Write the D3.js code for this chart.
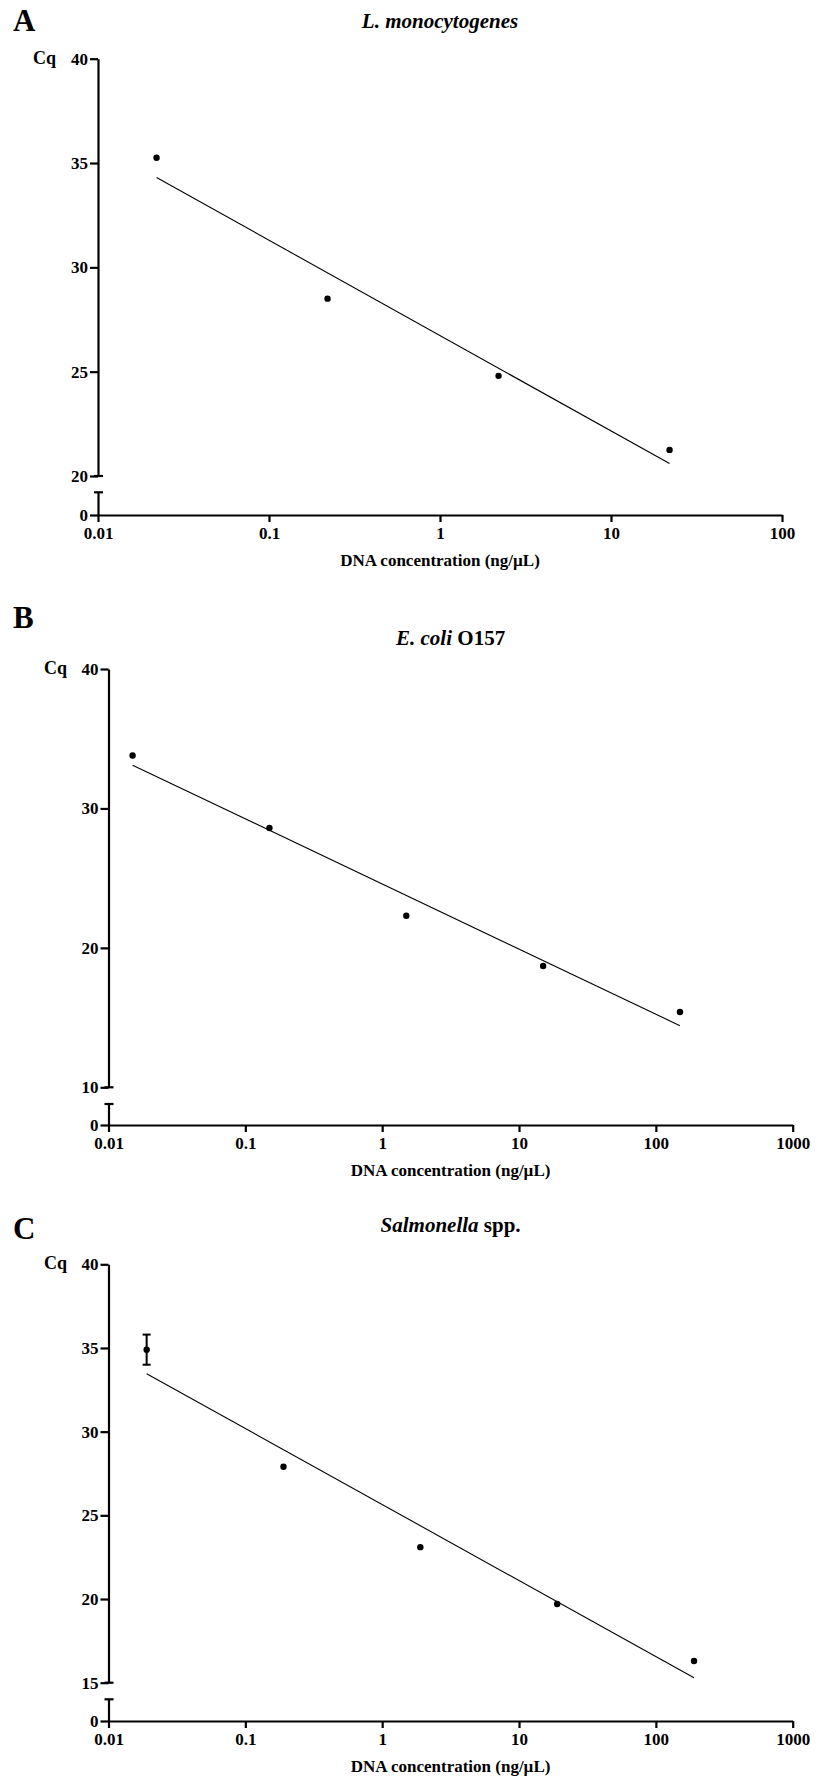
<!DOCTYPE html>
<html>
<head>
<meta charset="utf-8">
<script src="https://cdn.jsdelivr.net/npm/d3@7"></script>
<style>
  html, body { margin: 0; padding: 0; background: #fff; }
  svg { display: block; }
  text { font-family: "Liberation Serif", "Times New Roman", serif; font-weight: bold; fill: #000; }
</style>
</head>
<body>
<svg id="chart" width="826" height="1777"></svg>
<script>
// ---------- data ----------
const panelLetters = ["A", "B", "C"];
const titleItalic = ["L. monocytogenes", "E. coli", "Salmonella"];
const titleRoman = ["", " O157", " spp."];

const concA = [0.022, 0.22, 2.2, 22];
const cqA = [35.25, 28.5, 24.8, 21.25];
const errA = [0, 0, 0, 0];

const concB = [0.015, 0.15, 1.5, 15, 150];
const cqB = [33.8, 28.6, 22.3, 18.7, 15.4];
const errB = [0, 0, 0, 0, 0];

const concC = [0.019, 0.19, 1.9, 19, 190];
const cqC = [34.9, 27.9, 23.1, 19.7, 16.3];
const errC = [0.9, 0, 0, 0, 0];

const yTicksA = [20, 25, 30, 35, 40];
const yTicksB = [10, 20, 30, 40];
const yTicksC = [15, 20, 25, 30, 35, 40];

const xTicksA = [0.01, 0.1, 1, 10, 100];
const xTicksBC = [0.01, 0.1, 1, 10, 100, 1000];
const xTickLabelsA = ["0.01", "0.1", "1", "10", "100"];
const xTickLabelsBC = ["0.01", "0.1", "1", "10", "100", "1000"];

const yLabel = "Cq";
const xLabel = "DNA concentration (ng/\u00B5L)";

// ---------- layout ----------
const layouts = [
  { axisX: 98,  right: 782,   top: 58.7,  mainBottom: 476,    lowTop: 492.3,  axisY: 515,  letterY: 31,   titleY: 28,   cqX: 33 },
  { axisX: 108.5, right: 792.7, top: 669,  mainBottom: 1087.3, lowTop: 1104,   axisY: 1125, letterY: 628,  titleY: 645,  cqX: 44 },
  { axisX: 108.5, right: 792.7, top: 1264.3, mainBottom: 1682.7, lowTop: 1699.3, axisY: 1721, letterY: 1239, titleY: 1232, cqX: 44 }
];

const panels = [
  { conc: concA, cq: cqA, err: errA, yTicks: yTicksA, xTicks: xTicksA, xLabels: xTickLabelsA },
  { conc: concB, cq: cqB, err: errB, yTicks: yTicksB, xTicks: xTicksBC, xLabels: xTickLabelsBC },
  { conc: concC, cq: cqC, err: errC, yTicks: yTicksC, xTicks: xTicksBC, xLabels: xTickLabelsBC }
];

const FONT = "'Liberation Serif', 'Times New Roman', serif";
const svg = d3.select("#chart");

panels.forEach((p, i) => {
  const L = layouts[i];
  const g = svg.append("g");
  const yMin = d3.min(p.yTicks), yMax = d3.max(p.yTicks);

  const x = d3.scaleLog().domain([p.xTicks[0], p.xTicks[p.xTicks.length - 1]]).range([L.axisX, L.right]);
  const y = d3.scaleLinear().domain([yMin, yMax]).range([L.mainBottom, L.top]);
  const yLow = d3.scaleLinear().domain([0, 1]).range([L.axisY, L.lowTop]);

  const yAxis = g.append("g").attr("transform", `translate(${L.axisX},0)`)
    .call(d3.axisLeft(y).tickValues(p.yTicks).tickSize(8).tickSizeOuter(0).tickPadding(2).tickFormat(d3.format("d")));
  const yAxisLow = g.append("g").attr("transform", `translate(${L.axisX},0)`)
    .call(d3.axisLeft(yLow).tickValues([0]).tickSize(8).tickSizeOuter(0).tickPadding(2).tickFormat(d3.format("d")));
  const xAxis = g.append("g").attr("transform", `translate(0,${L.axisY})`)
    .call(d3.axisBottom(x).tickValues(p.xTicks).tickSize(7).tickSizeOuter(0).tickPadding(5)
      .tickFormat((d, k) => p.xLabels[k]));

  [yAxis, yAxisLow, xAxis].forEach(a => {
    a.attr("font-family", FONT).attr("font-size", 17).attr("font-weight", "bold");
    a.select(".domain").attr("stroke", "#000").attr("stroke-width", 2.2);
    a.selectAll(".tick line").attr("stroke", "#000").attr("stroke-width", 2.2);
    a.selectAll(".tick text").attr("fill", "#000");
  });

  // break caps
  g.append("line").attr("x1", L.axisX - 4).attr("x2", L.axisX + 5)
    .attr("y1", y(yMin)).attr("y2", y(yMin)).attr("stroke", "#000").attr("stroke-width", 2.2);
  g.append("line").attr("x1", L.axisX - 4).attr("x2", L.axisX + 5)
    .attr("y1", yLow(1)).attr("y2", yLow(1)).attr("stroke", "#000").attr("stroke-width", 2.2);

  g.append("text").attr("x", 13).attr("y", L.letterY).attr("font-size", 31).text(panelLetters[i]);

  const t = g.append("text").attr("x", (L.axisX + L.right) / 2).attr("y", L.titleY)
    .attr("text-anchor", "middle").attr("font-size", 21);
  t.append("tspan").attr("font-style", "italic").text(titleItalic[i]);
  if (titleRoman[i]) t.append("tspan").text(titleRoman[i]);

  g.append("text").attr("x", L.cqX).attr("y", y(yMax) + 5).attr("font-size", 18).text(yLabel);

  g.append("text").attr("x", (L.axisX + L.right) / 2).attr("y", L.axisY + 51)
    .attr("text-anchor", "middle").attr("font-size", 17).text(xLabel);

  // regression line (least squares on log10 conc)
  const lx = p.conc.map(Math.log10);
  const mx = d3.mean(lx), my = d3.mean(p.cq);
  const slope = d3.sum(lx, (v, k) => (v - mx) * (p.cq[k] - my)) / d3.sum(lx, v => (v - mx) * (v - mx));
  const icpt = my - slope * mx;
  const x0 = p.conc[0], x1 = p.conc[p.conc.length - 1];
  const line = d3.line().x(d => x(d)).y(d => y(icpt + slope * Math.log10(d)));
  g.append("path").attr("d", line([x0, x1])).attr("fill", "none").attr("stroke", "#000").attr("stroke-width", 1.1);

  p.conc.forEach((c, k) => {
    if (p.err[k] > 0) {
      const cx = x(c);
      g.append("line").attr("x1", cx).attr("x2", cx).attr("y1", y(p.cq[k] - p.err[k])).attr("y2", y(p.cq[k] + p.err[k]))
        .attr("stroke", "#000").attr("stroke-width", 2);
      [p.cq[k] - p.err[k], p.cq[k] + p.err[k]].forEach(v => {
        g.append("line").attr("x1", cx - 4).attr("x2", cx + 4).attr("y1", y(v)).attr("y2", y(v))
          .attr("stroke", "#000").attr("stroke-width", 2);
      });
    }
  });

  g.selectAll("circle.pt").data(p.conc).enter().append("circle")
    .attr("class", "pt")
    .attr("cx", d => x(d)).attr("cy", (d, k) => y(p.cq[k])).attr("r", 3.2).attr("fill", "#000");
});
</script>
</body>
</html>
